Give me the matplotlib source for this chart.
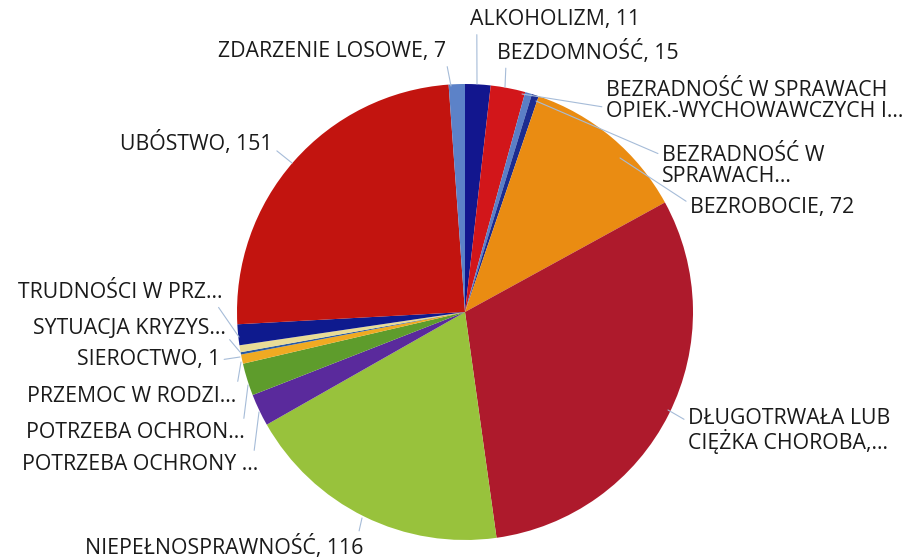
import matplotlib
matplotlib.use("Agg")
import matplotlib.pyplot as plt

# dane - kolejnosc zgodnie z ruchem wskazowek zegara od godziny 12
categories = [
    "ALKOHOLIZM", "BEZDOMNOŚĆ", "BEZRADNOŚĆ W SPRAWACH OPIEK.-WYCHOWAWCZYCH",
    "BEZRADNOŚĆ W SPRAWACH", "BEZROBOCIE", "DŁUGOTRWAŁA LUB CIĘŻKA CHOROBA",
    "NIEPEŁNOSPRAWNOŚĆ", "POTRZEBA OCHRONY", "POTRZEBA OCHRON",
    "PRZEMOC W RODZINIE", "SIEROCTWO", "SYTUACJA KRYZYSOWA", "TRUDNOŚCI W PRZ",
    "UBÓSTWO", "ZDARZENIE LOSOWE",
]
values = [11, 15, 3, 3, 72, 188, 116, 14, 14, 4, 1, 3, 9, 151, 7]
label_texts = [
    "ALKOHOLIZM, 11", "BEZDOMNOŚĆ, 15", "BEZRADNOŚĆ W SPRAWACH\nOPIEK.-WYCHOWAWCZYCH I...",
    "BEZRADNOŚĆ W\nSPRAWACH...", "BEZROBOCIE, 72", "DŁUGOTRWAŁA LUB\nCIĘŻKA CHOROBA,...",
    "NIEPEŁNOSPRAWNOŚĆ, 116", "POTRZEBA OCHRONY ...", "POTRZEBA OCHRON...",
    "PRZEMOC W RODZI...", "SIEROCTWO, 1", "SYTUACJA KRYZYS...", "TRUDNOŚCI W PRZ...",
    "UBÓSTWO, 151", "ZDARZENIE LOSOWE, 7",
]
colors = [
    "#12168e", "#d2161a", "#5b7fc6", "#1c2c90", "#ea8c12", "#ae1a2c",
    "#98c23c", "#5a2a9c", "#5e9c2c", "#f0aa22", "#2a5aa2", "#e9dc96",
    "#0e1a8e", "#c2140f", "#5c82c8",
]

W, H = 917, 560
# pozycja tekstu (piksele, y od gory), wyrownanie, punkt na kole, relpos linii
label_pos = [
    (470, 20, "left", (477, 84), (0.04, 0.1)),
    (497, 52, "left", (505, 87), (0.05, 0.1)),
    (606, 101, "left", (522, 94), (0.0, 0.35)),
    (662, 166, "left", (536, 101), (0.0, 0.75)),
    (690, 208, "left", (620, 158), (0.0, 0.7)),
    (688, 431, "left", (668, 410), (0.0, 0.7)),
    (224, 547, "center", (362, 518), (0.98, 0.9)),
    (258, 465, "right", (259, 412), (0.98, 0.85)),
    (245, 433, "right", (248, 385), (0.99, 0.8)),
    (236, 396, "right", (241, 362), (1.0, 0.7)),
    (220, 360, "right", (240, 357), (1.0, 0.5)),
    (226, 329, "right", (240, 352), (1.0, 0.2)),
    (222, 293, "right", (239, 337), (0.97, 0.0)),
    (273, 143, "right", (292, 163), (1.0, 0.3)),
    (446, 52, "right", (451, 86), (1.0, 0.1)),
]

cx, cy, r = 465, 312, 228

fig = plt.figure(figsize=(W / 100, H / 100), dpi=100)
ax = fig.add_axes([0, 0, 1, 1])
ax.pie(values, colors=colors, startangle=90, counterclock=False,
       center=(cx, H - cy), radius=r, frame=True,
       wedgeprops=dict(linewidth=0))
ax.set_xlim(0, W)
ax.set_ylim(0, H)
ax.set_aspect("equal")
ax.axis("off")

for txt, (tx, ty, ha, (px, py), rp) in zip(label_texts, label_pos):
    ax.annotate(txt, xy=(px, H - py), xytext=(tx, H - ty),
                ha=ha, va="center", fontsize=15.3, family="Open Sans",
                color="#1a1a1a", linespacing=1.05,
                arrowprops=dict(arrowstyle="-", color="#a6bcd8", lw=0.8,
                                shrinkA=1, shrinkB=0, relpos=rp))

fig.savefig("out.png", dpi=100)
